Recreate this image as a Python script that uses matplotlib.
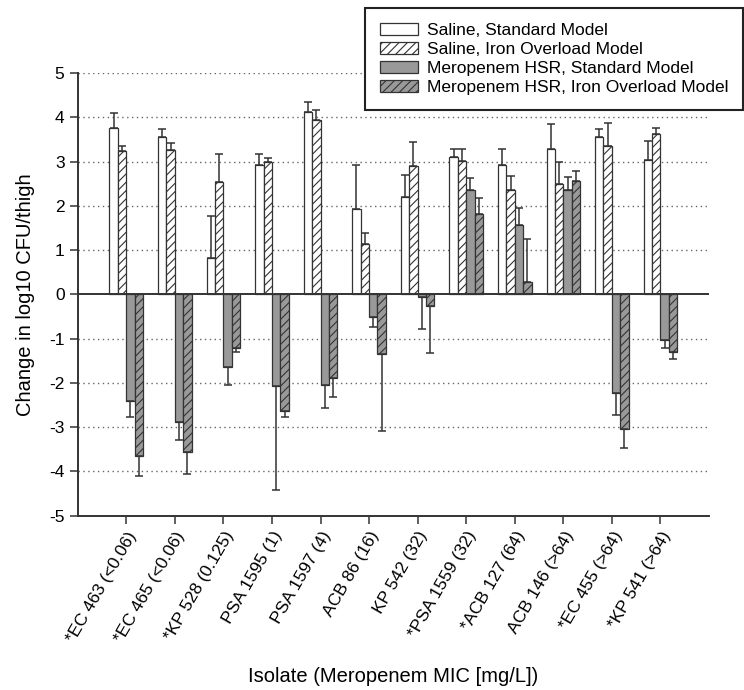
import matplotlib
matplotlib.use('Agg')
import matplotlib.pyplot as plt
import numpy as np

plt.rcParams['font.family'] = ['Liberation Sans', 'DejaVu Sans']
plt.rcParams['hatch.linewidth'] = 0.8
plt.rcParams['axes.unicode_minus'] = False

isolados = ['*EC 463 (<0.06)', '*EC 465 (<0.06)', '*KP 528 (0.125)', 'PSA 1595 (1)',
            'PSA 1597 (4)', 'ACB 86 (16)', 'KP 542 (32)', '*PSA 1559 (32)',
            '*ACB 127 (64)', 'ACB 146 (>64)', '*EC 455 (>64)', '*KP 541 (>64)']

series = ['Saline, Standard Model', 'Saline, Iron Overload Model',
          'Meropenem HSR, Standard Model', 'Meropenem HSR, Iron Overload Model']

# valores medios (log10 CFU/thigh)
sal_std = [3.76, 3.56, 0.82, 2.92, 4.11, 1.93, 2.20, 3.10, 2.93, 3.28, 3.56, 3.03]
sal_iron = [3.23, 3.27, 2.53, 3.00, 3.93, 1.14, 2.90, 3.02, 2.36, 2.49, 3.36, 3.62]
mer_std = [-2.41, -2.89, -1.63, -2.06, -2.05, -0.52, -0.05, 2.36, 1.56, 2.35, -2.23, -1.02]
mer_iron = [-3.66, -3.55, -1.21, -2.64, -1.89, -1.34, -0.26, 1.82, 0.29, 2.57, -3.04, -1.30]

# desvio (so para um lado)
sd_sal_std = [0.34, 0.17, 0.94, 0.25, 0.24, 0.99, 0.50, 0.19, 0.36, 0.57, 0.18, 0.44]
sd_sal_iron = [0.12, 0.14, 0.65, 0.09, 0.24, 0.25, 0.54, 0.27, 0.31, 0.51, 0.50, 0.14]
sd_mer_std = [0.37, 0.39, 0.41, 2.36, 0.52, 0.22, 0.74, 0.27, 0.39, 0.29, 0.49, 0.19]
sd_mer_iron = [0.44, 0.51, 0.09, 0.14, 0.42, 1.74, 1.06, 0.36, 0.97, 0.22, 0.43, 0.17]

medias = [sal_std, sal_iron, mer_std, mer_iron]
desvios = [sd_sal_std, sd_sal_iron, sd_mer_std, sd_mer_iron]
cores = ['white', 'white', '#999999', '#999999']
hachuras = [None, '////', None, '////']

fig = plt.figure(figsize=(7.44, 6.9), dpi=100)
ax = fig.add_axes([77.7 / 744, 1 - 515.7 / 690, (709 - 77.7) / 744, (515.7 - 73) / 690])

x = np.arange(len(isolados))
w = 0.173
barras = []
for i in range(4):
    pos = x + (i - 1.5) * w
    vals = np.array(medias[i])
    sd = np.array(desvios[i])
    b = ax.bar(pos, vals, w, color=cores[i], edgecolor='#333333', linewidth=0.9,
               hatch=hachuras[i], label=series[i], zorder=3)
    barras.append(b)
    baixo = np.where(vals < 0, sd, 0)
    cima = np.where(vals >= 0, sd, 0)
    ax.errorbar(pos, vals, yerr=[baixo, cima], fmt='none', ecolor='#333333',
                elinewidth=1.1, capsize=2.9, capthick=1.1, zorder=4)

ax.axhline(0, color='#333333', lw=1.4, zorder=5)
for yv in [-4, -3, -2, -1, 1, 2, 3, 4, 5]:
    ax.axhline(yv, color='#666666', lw=1.0, linestyle=(0, (1, 2.5)), zorder=1)

ax.set_xlim(-1, 12)
ax.set_ylim(-5, 5)
ax.set_yticks(range(-5, 6))
ax.set_xticks(x)
ax.set_xticklabels(isolados, rotation=60, ha='right', rotation_mode='anchor')
ax.tick_params(labelsize=12.5, length=6, width=1.1, color='#333333')
ax.spines['top'].set_visible(False)
ax.spines['right'].set_visible(False)
for s in ['left', 'bottom']:
    ax.spines[s].set_linewidth(1.4)
    ax.spines[s].set_color('#333333')

ax.set_ylabel('Change in log10 CFU/thigh', fontsize=14.5, labelpad=10)
ax.set_xlabel('Isolate (Meropenem MIC [mg/L])', fontsize=14.5, labelpad=16)

leg = fig.legend(handles=barras, loc='upper right', bbox_to_anchor=(743 / 744, 1 - 8 / 690),
                 fontsize=12.5, frameon=True, fancybox=False, borderaxespad=0,
                 borderpad=0.85, labelspacing=0.23, handlelength=2.2, handleheight=0.7,
                 handletextpad=0.5)
leg.get_frame().set_edgecolor('#222222')
leg.get_frame().set_linewidth(1.5)
leg.get_frame().set_alpha(1)

fig.savefig('out.png', dpi=100)
